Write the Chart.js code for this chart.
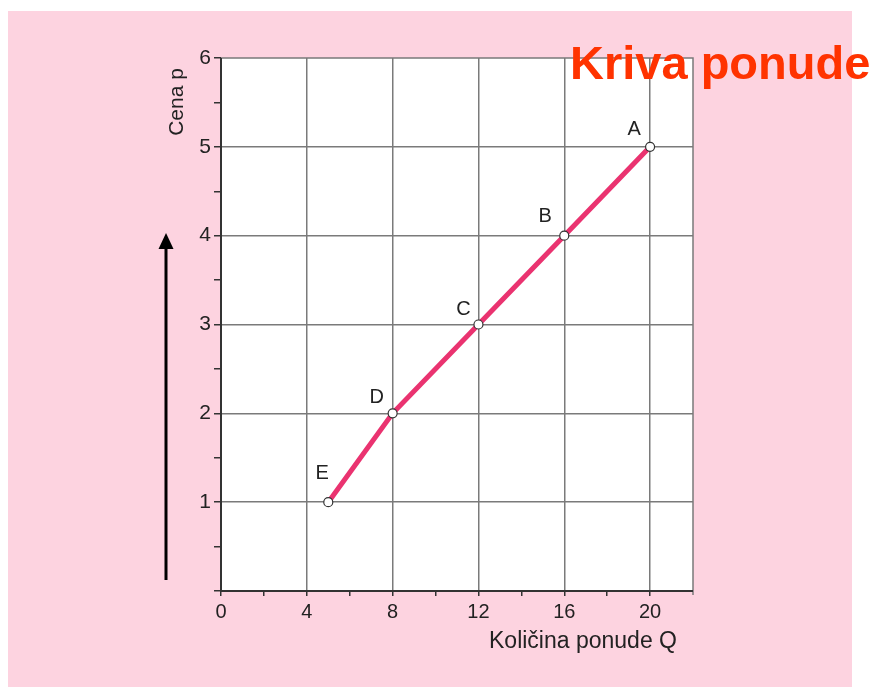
<!DOCTYPE html>
<html>
<head>
<meta charset="utf-8">
<title>Kriva ponude</title>
<script src="https://cdn.jsdelivr.net/npm/chart.js@4/dist/chart.umd.min.js"></script>
<style>
  html, body { margin: 0; padding: 0; background: #ffffff; }
  #wrap { width: 879px; height: 687px; position: relative; }
</style>
</head>
<body>
<div id="wrap"><canvas id="myChart" width="879" height="687"></canvas></div>
<script>
// Tačke krive ponude: količina Q i cena p
const pointNames = ['A', 'B', 'C', 'D', 'E'];
const quantities = [20, 16, 12, 8, 5];
const prices = [5, 4, 3, 2, 1];

// Oznake na osama
const xTickLabels = [0, 4, 8, 12, 16, 20];
const yTickLabels = [1, 2, 3, 4, 5, 6];

// Pomeranje slova u odnosu na tačku (px)
const labelOffsets = [[-16, -17], [-19, -19], [-15, -15], [-16, -16], [-6, -29]];

const ink = '#222222';
const gridColor = '#7a7a7a';
const fontFamily = "'Liberation Sans', Arial, sans-serif";

// Roze pozadina, naslov, strelica i natpisi osa
const decorations = {
    id: 'decorations',
    beforeDraw(chart) {
        const ctx = chart.ctx;
        const area = chart.chartArea;
        ctx.save();
        ctx.fillStyle = '#fdd3e0';
        ctx.fillRect(8, 11, 844, 676);
        ctx.fillStyle = '#ffffff';
        ctx.fillRect(area.left, area.top, area.right - area.left, area.bottom - area.top);
        ctx.restore();
    },
    afterDraw(chart) {
        const ctx = chart.ctx;
        const area = chart.chartArea;
        const xs = chart.scales.x;
        const ys = chart.scales.y;
        ctx.save();

        // okvir grafika (gore i desno)
        ctx.strokeStyle = gridColor;
        ctx.lineWidth = 1.5;
        ctx.beginPath();
        ctx.moveTo(area.left, area.top);
        ctx.lineTo(area.right, area.top);
        ctx.lineTo(area.right, area.bottom + 4);
        ctx.stroke();

        // ose
        ctx.strokeStyle = '#333333';
        ctx.lineWidth = 2;
        ctx.beginPath();
        ctx.moveTo(area.left, area.top);
        ctx.lineTo(area.left, area.bottom);
        ctx.lineTo(area.right, area.bottom);
        ctx.stroke();

        // slova uz tačke
        ctx.fillStyle = ink;
        ctx.font = '20px ' + fontFamily;
        ctx.textAlign = 'center';
        ctx.textBaseline = 'middle';
        pointNames.forEach((name, i) => {
            const px = xs.getPixelForValue(quantities[i]);
            const py = ys.getPixelForValue(prices[i]);
            ctx.fillText(name, px + labelOffsets[i][0], py + labelOffsets[i][1]);
        });

        // natpis x ose
        ctx.font = '23px ' + fontFamily;
        ctx.fillText('Količina ponude Q', 583, 642);

        // natpis y ose (rotiran)
        ctx.save();
        ctx.translate(177, 102);
        ctx.rotate(-Math.PI / 2);
        ctx.font = '21px ' + fontFamily;
        ctx.fillText('Cena p', 0, 0);
        ctx.restore();

        // strelica nagore
        ctx.strokeStyle = '#000000';
        ctx.fillStyle = '#000000';
        ctx.lineWidth = 3;
        ctx.beginPath();
        ctx.moveTo(166, 580);
        ctx.lineTo(166, 246);
        ctx.stroke();
        ctx.beginPath();
        ctx.moveTo(166, 233);
        ctx.lineTo(173.5, 249);
        ctx.lineTo(158.5, 249);
        ctx.closePath();
        ctx.fill();

        // naslov
        ctx.fillStyle = '#ff3300';
        ctx.font = 'bold 47px ' + fontFamily;
        ctx.textAlign = 'left';
        ctx.textBaseline = 'alphabetic';
        ctx.fillText('Kriva ponude', 570, 79);

        ctx.restore();
    }
};

const canvas = document.getElementById('myChart');

new Chart(canvas, {
    type: 'scatter',
    data: {
        datasets: [{
            data: quantities.map((q, i) => ({ x: q, y: prices[i] })),
            showLine: true,
            borderColor: '#ea3370',
            borderWidth: 5,
            pointRadius: 4.5,
            pointBorderWidth: 1.2,
            pointBackgroundColor: '#ffffff',
            pointBorderColor: '#333333'
        }]
    },
    options: {
        animation: false,
        responsive: false,
        devicePixelRatio: 1,
        layout: {
            padding: { left: 0, top: 58, right: 186, bottom: 0 }
        },
        plugins: {
            legend: { display: false },
            tooltip: { enabled: false }
        },
        scales: {
            x: {
                type: 'linear',
                min: 0,
                max: 22,
                afterBuildTicks(scale) {
                    const ticks = [];
                    for (let v = 0; v <= 22; v += 2) ticks.push({ value: v });
                    scale.ticks = ticks;
                },
                afterFit(scale) { scale.height = 96; },
                border: { display: false },
                grid: {
                    tickLength: 5,
                    lineWidth: 1.5,
                    color: ctx => (ctx.tick && ctx.tick.value % 4 === 0 && ctx.tick.value > 0 && ctx.tick.value < 22) ? gridColor : 'rgba(0,0,0,0)',
                    tickColor: ctx => (ctx.tick && ctx.tick.value < 22) ? '#333333' : 'rgba(0,0,0,0)'
                },
                ticks: {
                    autoSkip: false,
                    maxRotation: 0,
                    padding: 4,
                    color: ink,
                    font: { family: fontFamily, size: 20 },
                    callback: v => xTickLabels.includes(v) ? String(v) : ''
                }
            },
            y: {
                type: 'linear',
                min: 0,
                max: 6,
                afterBuildTicks(scale) {
                    const ticks = [];
                    for (let v = 0; v <= 6; v += 0.5) ticks.push({ value: v });
                    scale.ticks = ticks;
                },
                afterFit(scale) { scale.width = 221; },
                border: { display: false },
                grid: {
                    tickLength: 7,
                    lineWidth: 1.5,
                    color: ctx => (ctx.tick && Number.isInteger(ctx.tick.value) && ctx.tick.value > 0 && ctx.tick.value < 6) ? gridColor : 'rgba(0,0,0,0)',
                    tickColor: '#333333'
                },
                ticks: {
                    autoSkip: false,
                    padding: 3,
                    color: ink,
                    font: { family: fontFamily, size: 21 },
                    callback: v => yTickLabels.includes(v) ? String(v) : ''
                }
            }
        }
    },
    plugins: [decorations]
});
</script>
</body>
</html>
